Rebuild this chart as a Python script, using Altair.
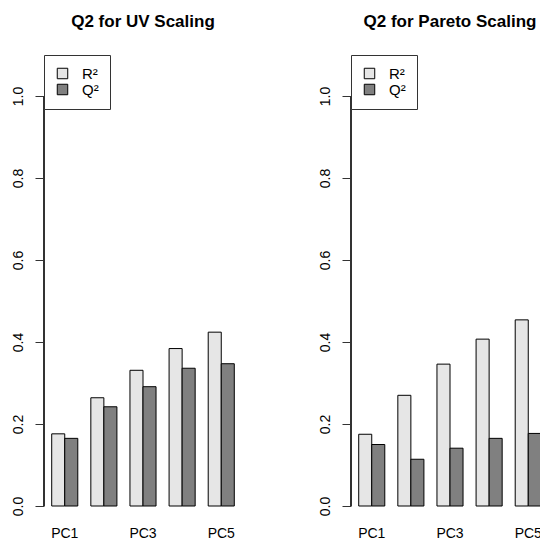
import altair as alt
import pandas as pd

# Explained (R²) and predicted (Q²) variance per component
components = ["PC1", "PC2", "PC3", "PC4", "PC5"]
series = ["R²", "Q²"]
uv_r2 = [0.176, 0.264, 0.331, 0.384, 0.424]
uv_q2 = [0.165, 0.242, 0.291, 0.336, 0.347]
pareto_r2 = [0.175, 0.270, 0.346, 0.407, 0.454]
pareto_q2 = [0.150, 0.114, 0.141, 0.165, 0.177]
y_ticks = [0.0, 0.2, 0.4, 0.6, 0.8, 1.0]
x_labels = ["PC1", "PC3", "PC5"]
colors = ["#E6E6E6", "#808080"]

FONT = "Liberation Sans"
AXIS_COLOR = "#333333"
PLOT_W = 198
PLOT_H = 451


def long_table(r2, q2):
    rows = []
    for pc, a, b in zip(components, r2, q2):
        rows.append({"pc": pc, "series": series[0], "value": a})
        rows.append({"pc": pc, "series": series[1], "value": b})
    return pd.DataFrame(rows)


def panel(title, r2, q2):
    df = long_table(r2, q2)
    y_scale = alt.Scale(domain=[0, 1.1], nice=False, zero=True)
    bars = alt.Chart(df).mark_bar(stroke="black", strokeWidth=1).encode(
        x=alt.X(
            "pc:N",
            sort=components,
            scale=alt.Scale(paddingInner=1 / 3, paddingOuter=0.197),
            axis=alt.Axis(
                values=x_labels, title=None, ticks=False, domain=False,
                labelAngle=0, labelFont=FONT, labelFontSize=14,
                labelColor="black", labelPadding=20,
            ),
        ),
        xOffset=alt.XOffset("series:N", sort=series,
                            scale=alt.Scale(paddingInner=0, paddingOuter=0)),
        y=alt.Y(
            "value:Q", scale=y_scale,
            axis=alt.Axis(
                values=y_ticks, format=".1f", title=None, grid=False,
                domain=False, tickSize=9, tickColor=AXIS_COLOR,
                labelAngle=270, labelAlign="center", labelBaseline="bottom",
                labelFont=FONT, labelFontSize=14, labelColor="black",
                labelPadding=10,
            ),
        ),
        color=alt.Color(
            "series:N", sort=series,
            scale=alt.Scale(domain=series, range=colors),
            legend=alt.Legend(
                title=None, orient="top-left", offset=0,
                strokeColor=AXIS_COLOR, padding=11, fillColor="white",
                symbolType="square", symbolSize=110,
                symbolStrokeColor="black", symbolStrokeWidth=1,
                symbolOpacity=1, labelFont=FONT, labelFontSize=15,
                labelColor="black", labelOffset=12, rowPadding=0,
            ),
        ),
    )
    axis_line = alt.Chart(df).mark_rule(color=AXIS_COLOR, strokeWidth=1).encode(
        x=alt.value(0),
        y=alt.datum(y_ticks[0], scale=y_scale),
        y2=alt.datum(y_ticks[-1]),
    )
    return alt.layer(bars, axis_line).properties(
        width=PLOT_W, height=PLOT_H,
        title=alt.TitleParams(title, font=FONT, fontSize=17,
                              fontWeight="bold", color="black",
                              anchor="middle", offset=24),
    )


chart = alt.hconcat(
    panel("Q2 for UV Scaling", uv_r2, uv_q2),
    panel("Q2 for Pareto Scaling", pareto_r2, pareto_q2),
    spacing=109,
    bounds="flush",
).resolve_scale(color="independent").resolve_legend(
    color="independent"
).configure_view(stroke=None).properties(
    autosize=alt.AutoSizeParams(type="none"),
    padding={"left": 44, "top": 55, "right": 496, "bottom": 486},
    background="white",
)

chart.save("out.html", embed_options={"renderer": "svg", "actions": False})
